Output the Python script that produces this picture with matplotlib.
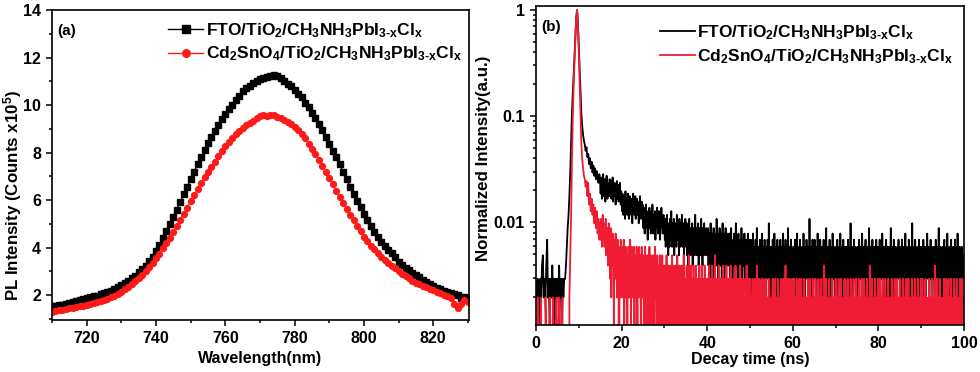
"""PL spectra (a) and TRPL decay (b) for FTO and Cd2SnO4 based perovskite films."""
import matplotlib
matplotlib.use("Agg")
import matplotlib.pyplot as plt
import numpy as np
from matplotlib.ticker import MultipleLocator, LogLocator, FixedLocator, FixedFormatter, NullFormatter

# --- (a) steady-state PL, 1 nm steps from 710 to 830 nm (counts x1e5)
WAVELENGTH = np.arange(710, 831)
PL_FTO = [
    1.52, 1.55, 1.58, 1.60, 1.63, 1.66, 1.70, 1.74, 1.78, 1.82,
    1.86, 1.90, 1.94, 1.98, 2.03, 2.08, 2.13, 2.19, 2.26, 2.33,
    2.41, 2.50, 2.60, 2.70, 2.82, 2.95, 3.08, 3.24, 3.42, 3.62,
    3.86, 4.12, 4.40, 4.68, 4.98, 5.28, 5.60, 5.92, 6.25, 6.56,
    6.88, 7.20, 7.50, 7.80, 8.10, 8.40, 8.65, 8.92, 9.15, 9.40,
    9.62, 9.82, 10.02, 10.20, 10.40, 10.58, 10.70, 10.82, 10.92, 11.00,
    11.08, 11.14, 11.18, 11.24, 11.28, 11.24, 11.12, 11.00, 10.90, 10.78,
    10.62, 10.48, 10.32, 10.10, 9.90, 9.66, 9.45, 9.20, 8.94, 8.66,
    8.38, 8.08, 7.80, 7.50, 7.18, 6.88, 6.56, 6.26, 5.98, 5.70,
    5.42, 5.14, 4.90, 4.66, 4.45, 4.24, 4.05, 3.90, 3.75, 3.60,
    3.40, 3.28, 3.16, 3.05, 2.94, 2.84, 2.74, 2.64, 2.55, 2.46,
    2.38, 2.30, 2.24, 2.18, 2.12, 2.08, 2.05, 2.02, 1.88, 1.92, 1.86,
]
PL_CD = [
    1.30, 1.33, 1.36, 1.38, 1.41, 1.44, 1.47, 1.50, 1.53, 1.56,
    1.60, 1.63, 1.67, 1.71, 1.75, 1.80, 1.85, 1.91, 1.98, 2.06,
    2.14, 2.24, 2.35, 2.46, 2.58, 2.72, 2.86, 3.02, 3.18, 3.36,
    3.54, 3.74, 3.96, 4.18, 4.42, 4.66, 4.90, 5.16, 5.42, 5.68,
    5.94, 6.20, 6.46, 6.72, 6.98, 7.20, 7.40, 7.62, 7.86, 8.08,
    8.28, 8.46, 8.62, 8.78, 8.92, 9.04, 9.14, 9.24, 9.34, 9.44,
    9.52, 9.58, 9.54, 9.60, 9.56, 9.50, 9.44, 9.38, 9.30, 9.18,
    9.06, 8.94, 8.80, 8.60, 8.38, 8.16, 7.92, 7.68, 7.42, 7.16,
    6.92, 6.66, 6.40, 6.14, 5.88, 5.62, 5.38, 5.14, 4.90, 4.68,
    4.46, 4.26, 4.08, 3.92, 3.76, 3.62, 3.48, 3.36, 3.24, 3.12,
    3.00, 2.90, 2.80, 2.70, 2.60, 2.52, 2.45, 2.38, 2.32, 2.26,
    2.20, 2.14, 2.08, 2.02, 1.96, 1.88, 1.62, 1.45, 1.64, 1.78, 1.72,
]

# --- (b) TRPL photon counts
# head: 0 - 14.8 ns, 0.2 ns per channel (one line = 5 ns)
HEAD_STEP = 0.2
HEAD_FTO = """
3 2 3 1 2 3 2 4 5 2 3 2 4 7 2 3 1 3 2 4 2 3 1 3 2
3 2 4 2 3 1 3 2 3 3 4 6 9 12 18 30 60 110 165 245 370 560 870 1020 760
460 275 165 108 82 68 60 55 48 52 42 45 36 41 33 38 30 35 28 33 26 31 27 24 29
"""
HEAD_CD = """
1 0 2 1 0 1 2 0 1 1 0 2 1 0 1 0 2 1 1 0 2 0 1 1 2
0 1 2 1 0 1 2 0 1 0 1 0 1 0 2 5 12 40 100 200 345 560 870 1020 735
410 205 100 56 40 33 28 26 22 25 18 24 15 19 13 17 12 15 10 14 9 13 8 11 7
"""
# tail: 15.0 - 99.9 ns, 0.1 ns per channel (one line = 5 ns)
TAIL_START = 15.0
TAIL_STEP = 0.1
TAIL_FTO = """
24 19 27 21 17 25 22 29 18 23 20 26 16 22 19 28 21 17 24 20 23 18 26 19 22 25 17 21 19 27 16 23 20 18 24 21 15 22 19 25 17 20 23 16 21 18 24 19 15 20
17 13 19 15 12 18 14 16 11 20 15 13 17 12 16 19 14 11 15 18 13 16 12 17 14 10 15 19 13 16 12 14 18 11 15 13 17 12 14 16 10 15 13 18 12 14 11 16 13 15
12 9 14 10 8 13 11 15 9 12 10 7 13 11 9 14 10 12 8 11 13 9 15 10 8 12 11 9 13 7 10 12 9 14 11 8 10 13 9 11 7 12 10 14 9 11 8 10 12 9
9 7 11 6 10 8 12 7 9 5 10 8 6 11 9 7 13 8 6 10 9 7 11 5 8 10 7 9 6 12 8 10 7 9 5 11 8 6 10 7 9 12 6 8 10 7 5 9 8 11
8 6 10 5 7 9 4 8 11 6 7 5 9 8 6 10 4 7 9 6 8 5 12 7 6 9 5 8 7 10 4 6 9 7 5 8 11 6 7 4 9 8 6 10 5 7 8 6 9 5
7 5 9 4 6 8 3 7 10 5 6 4 8 7 5 9 3 6 8 5 7 4 11 6 5 8 3 7 6 9 4 5 8 6 3 7 10 5 6 4 8 7 2 9 5 6 7 4 8 6
6 4 8 3 5 7 9 4 6 2 5 7 4 8 6 3 5 10 4 6 7 3 5 8 4 6 2 7 5 4 9 6 3 5 7 4 6 8 3 5 4 7 6 2 5 8 4 6 3 7
5 3 7 4 2 6 5 8 3 4 6 2 5 7 4 3 9 5 4 6 3 5 2 7 4 6 3 5 8 4 2 6 5 3 7 4 5 2 6 4 3 7 5 4 10 3 5 6 2 4
6 4 3 7 5 2 4 8 5 3 6 4 2 5 7 3 4 6 5 1 4 7 3 5 6 4 2 8 5 3 4 6 3 7 4 5 2 6 4 9 3 5 4 6 2 5 7 3 4 5
3 6 4 5 2 7 4 3 6 5 8 4 2 5 3 6 4 7 3 5 4 2 6 5 3 8 4 5 2 6 4 3 7 5 4 6 2 5 3 11 4 5 3 6 2 4 7 5 3 4
5 7 3 4 6 2 5 4 8 3 5 6 4 2 7 5 3 4 6 5 2 4 7 3 5 4 6 3 9 4 5 2 6 4 3 5 7 4 2 6 5 3 4 8 5 3 6 4 2 5
4 6 3 5 7 4 2 6 5 3 4 8 5 3 6 4 1 5 7 4 3 6 5 2 4 6 3 5 4 7 3 5 2 6 4 10 3 5 4 6 2 5 3 7 4 5 3 6 4 2
5 3 6 4 2 7 5 3 4 6 5 2 8 4 3 5 6 4 2 5 7 3 4 5 3 6 2 4 9 5 3 4 6 2 5 4 7 3 5 4 2 6 5 3 4 7 4 2 5 6
3 5 4 7 2 5 6 3 4 8 5 3 4 6 2 5 4 3 7 5 4 2 6 3 5 4 6 2 5 9 3 4 6 5 2 4 7 3 5 4 6 1 4 5 3 6 4 7 3 5
4 6 2 5 3 7 4 5 3 6 4 2 5 8 3 4 6 5 2 4 3 7 5 4 6 2 5 3 4 10 4 3 5 6 2 4 7 3 5 4 2 6 4 5 3 7 4 2 5 6
3 5 4 6 2 7 4 3 5 6 4 2 5 3 8 4 5 3 6 2 4 5 7 3 4 6 1 5 4 3 6 5 2 4 7 3 5 4 6 2 5 9 3 4 5 6 3 4 2 5
6 4 3 5 7 2 4 5 3 6 4 8 3 5 2 4 6 5 3 4 7 2 5 4 3 6 4 5 2 7 3 4 6 5 3 8 4 2 5 4 6 3 5 4 2 6 5 3 4 5
"""
TAIL_CD = """
10 7 11 8 6 9 12 7 8 10 6 9 7 11 5 8 6 9 4 7 10 5 8 3 6 9 2 7 5 8 4 6 1 7 5 3 8 4 6 2 5 7 3 6 0 4 5 2 7 3
4 6 2 5 3 7 1 4 5 3 6 2 4 0 5 3 6 4 2 5 7 3 1 4 6 3 5 2 4 6 0 3 5 4 2 6 3 1 5 4 3 6 2 4 5 1 3 6 4 2
3 5 1 4 2 6 3 0 4 2 5 3 1 4 3 6 2 1 5 3 4 0 3 5 2 4 1 3 6 2 4 3 0 5 2 3 4 1 3 5 2 0 4 3 2 5 1 3 4 2
2 4 0 3 1 5 2 3 1 4 0 2 3 1 4 2 0 3 5 1 2 4 1 3 0 2 4 3 1 2 5 0 3 2 1 4 2 0 3 1 4 2 1 3 0 5 2 1 3 2
3 1 4 0 2 3 1 5 2 0 3 2 4 1 0 3 2 1 4 2 0 3 1 2 4 0 2 3 1 3 0 4 2 1 3 2 0 4 1 2 3 0 2 1 4 3 1 0 2 3
1 3 0 2 4 1 2 0 3 2 1 4 0 2 3 1 0 2 5 1 3 0 2 1 3 2 0 4 1 2 0 3 2 1 0 3 2 4 0 1 2 3 0 2 1 4 0 2 3 1
2 0 3 1 2 4 0 1 3 2 0 2 1 3 0 2 4 1 0 3 2 1 0 3 1 2 0 4 2 1 3 0 1 2 3 0 2 1 0 3 2 1 4 0 2 1 3 0 2 1
3 0 2 1 0 2 3 1 0 2 1 3 0 1 2 0 4 1 2 0 1 3 2 0 1 2 0 3 1 0 2 1 3 0 2 1 0 2 3 1 0 2 1 0 3 2 1 0 2 1
0 2 1 3 0 2 1 0 2 3 0 1 2 1 0 3 2 0 1 2 0 1 3 0 2 1 2 0 3 1 0 2 1 4 0 1 2 0 3 1 2 0 1 3 0 2 1 0 2 3
1 0 2 3 0 1 2 0 1 3 2 0 1 2 0 3 1 0 2 1 3 0 2 1 0 2 1 3 0 1 2 0 2 1 0 3 1 2 0 1 2 3 0 1 0 2 1 3 0 2
2 1 0 3 1 2 0 1 2 0 3 1 2 0 1 0 2 3 1 0 2 1 0 4 1 2 0 1 3 0 2 1 0 2 1 3 0 1 2 0 2 1 3 0 1 2 0 2 1 0
3 0 1 2 0 2 1 3 0 1 2 0 1 3 0 2 1 0 2 1 0 3 2 0 1 2 1 0 3 1 0 2 1 2 0 3 1 0 2 1 0 2 3 1 0 1 2 0 3 1
0 2 1 0 3 1 2 0 2 1 0 3 1 0 2 1 3 0 1 2 0 1 2 3 0 2 1 0 2 1 4 0 1 2 0 3 1 0 2 1 2 0 3 1 0 2 1 0 2 3
1 0 2 1 3 0 2 1 0 2 3 0 1 2 0 1 3 0 2 1 0 2 1 3 0 1 2 0 2 1 0 3 1 2 0 1 0 2 3 1 0 2 1 0 3 1 2 0 1 2
0 3 1 0 2 1 2 0 3 1 0 2 1 0 2 3 1 0 2 1 3 0 1 2 0 2 1 0 3 2 0 1 2 0 1 3 0 2 1 0 2 1 3 0 2 1 0 2 1 3
2 0 1 3 0 2 1 0 2 1 3 0 2 1 0 1 2 0 3 1 2 0 1 2 0 3 1 0 2 1 0 2 4 0 1 2 0 3 1 0 2 1 0 3 1 2 0 2 1 0
1 2 0 3 1 0 2 1 3 0 2 1 0 2 3 0 1 2 0 1 3 0 2 1 0 2 1 3 0 2 0 1 2 3 0 1 2 0 2 1 0 3 1 2 0 1 3 0 2 1
"""

LABEL_FTO = r"FTO/TiO$_2$/CH$_3$NH$_3$PbI$_{3\text{-}x}$Cl$_x$"
LABEL_CD = r"Cd$_2$SnO$_4$/TiO$_2$/CH$_3$NH$_3$PbI$_{3\text{-}x}$Cl$_x$"

RED_A = "#ff1a1a"
RED_B = "#f01c34"

plt.rcParams["font.family"] = "Liberation Sans"
plt.rcParams["font.weight"] = "bold"
plt.rcParams["font.size"] = 11.5
plt.rcParams["axes.labelweight"] = "bold"
plt.rcParams["axes.linewidth"] = 1.2
plt.rcParams["mathtext.fontset"] = "custom"
plt.rcParams["mathtext.rm"] = "Liberation Sans:bold"
plt.rcParams["mathtext.it"] = "Liberation Sans:bold"
plt.rcParams["mathtext.bf"] = "Liberation Sans:bold"
plt.rcParams["mathtext.sf"] = "Liberation Sans:bold"


def _style_ticks(ax):
    ax.tick_params(which="both", direction="out", top=False, right=False,
                   width=1.1, pad=3.5, labelsize=11.5)
    ax.tick_params(which="major", length=4.5)
    ax.tick_params(which="minor", length=2.5)


def _decay(head, tail):
    h = np.array(head.split(), dtype=float)
    tl = np.array(tail.split(), dtype=float)
    t = np.concatenate([np.arange(len(h)) * HEAD_STEP, TAIL_START + np.arange(len(tl)) * TAIL_STEP])
    counts = np.concatenate([h, tl])
    return t, counts / counts.max()


fig = plt.figure(figsize=(9.8, 3.72), dpi=100)

# panel (a)
ax1 = fig.add_axes([52 / 980, 52 / 372, 417 / 980, 310 / 372])
ax1.plot(WAVELENGTH, PL_FTO, color="black", marker="s", markersize=4.0, lw=1.0, label=LABEL_FTO)
ax1.plot(WAVELENGTH, PL_CD, color=RED_A, marker="o", markersize=4.2, lw=1.0, label=LABEL_CD)
ax1.set_xlim(710, 830.3)
ax1.set_ylim(0.95, 14)
ax1.xaxis.set_major_locator(MultipleLocator(20))
ax1.xaxis.set_minor_locator(MultipleLocator(10))
ax1.yaxis.set_major_locator(MultipleLocator(2))
ax1.yaxis.set_minor_locator(MultipleLocator(1))
_style_ticks(ax1)
ax1.set_xlabel("Wavelength(nm)", fontsize=11.5)
ax1.set_ylabel(r"PL Intensity (Counts x10$^5$)", fontsize=12.2)
ax1.yaxis.set_label_coords(-0.068, 0.40)
ax1.xaxis.set_label_coords(0.5, -0.1)
ax1.text(0.013, 0.955, "(a)", transform=ax1.transAxes, fontsize=11, fontweight="bold", va="top")
ax1.legend(loc="upper left", bbox_to_anchor=(0.279, 0.965), frameon=False, borderpad=0,
           borderaxespad=0, handlelength=2.0, handletextpad=0.15, labelspacing=0.3,
           numpoints=1, markerscale=1.3, fontsize=12.5)

# panel (b)
t_fto, y_fto = _decay(HEAD_FTO, TAIL_FTO)
t_cd, y_cd = _decay(HEAD_CD, TAIL_CD)

ax2 = fig.add_axes([536 / 980, 47 / 372, 428 / 980, 319 / 372])
ax2.set_yscale("log")
ax2.plot(t_fto, y_fto, color="black", lw=1.3, label=LABEL_FTO)
ax2.plot(t_cd, y_cd, color=RED_B, lw=1.3, label=LABEL_CD)
ax2.set_xlim(0, 100)
ax2.set_ylim(0.00108, 1.09)
ax2.xaxis.set_major_locator(MultipleLocator(20))
ax2.xaxis.set_minor_locator(MultipleLocator(10))
ax2.yaxis.set_major_locator(FixedLocator([0.01, 0.1, 1]))
ax2.yaxis.set_major_formatter(FixedFormatter(["0.01", "0.1", "1"]))
ax2.yaxis.set_minor_locator(LogLocator(base=10, subs=np.arange(2, 10)))
ax2.yaxis.set_minor_formatter(NullFormatter())
_style_ticks(ax2)
ax2.set_xlabel("Decay time (ns)", fontsize=11.5)
ax2.set_ylabel("Normalized Intensity(a.u.)", fontsize=12.2)
ax2.yaxis.set_label_coords(-0.105, 0.523)
ax2.xaxis.set_label_coords(0.5, -0.085)
ax2.text(0.013, 0.955, "(b)", transform=ax2.transAxes, fontsize=11, fontweight="bold", va="top")
ax2.legend(loc="upper left", bbox_to_anchor=(0.29, 0.945), frameon=False, borderpad=0,
           borderaxespad=0, handlelength=2.0, handletextpad=0.15, labelspacing=0.3,
           fontsize=12.5)

fig.savefig("out.png", dpi=100, facecolor="white")
